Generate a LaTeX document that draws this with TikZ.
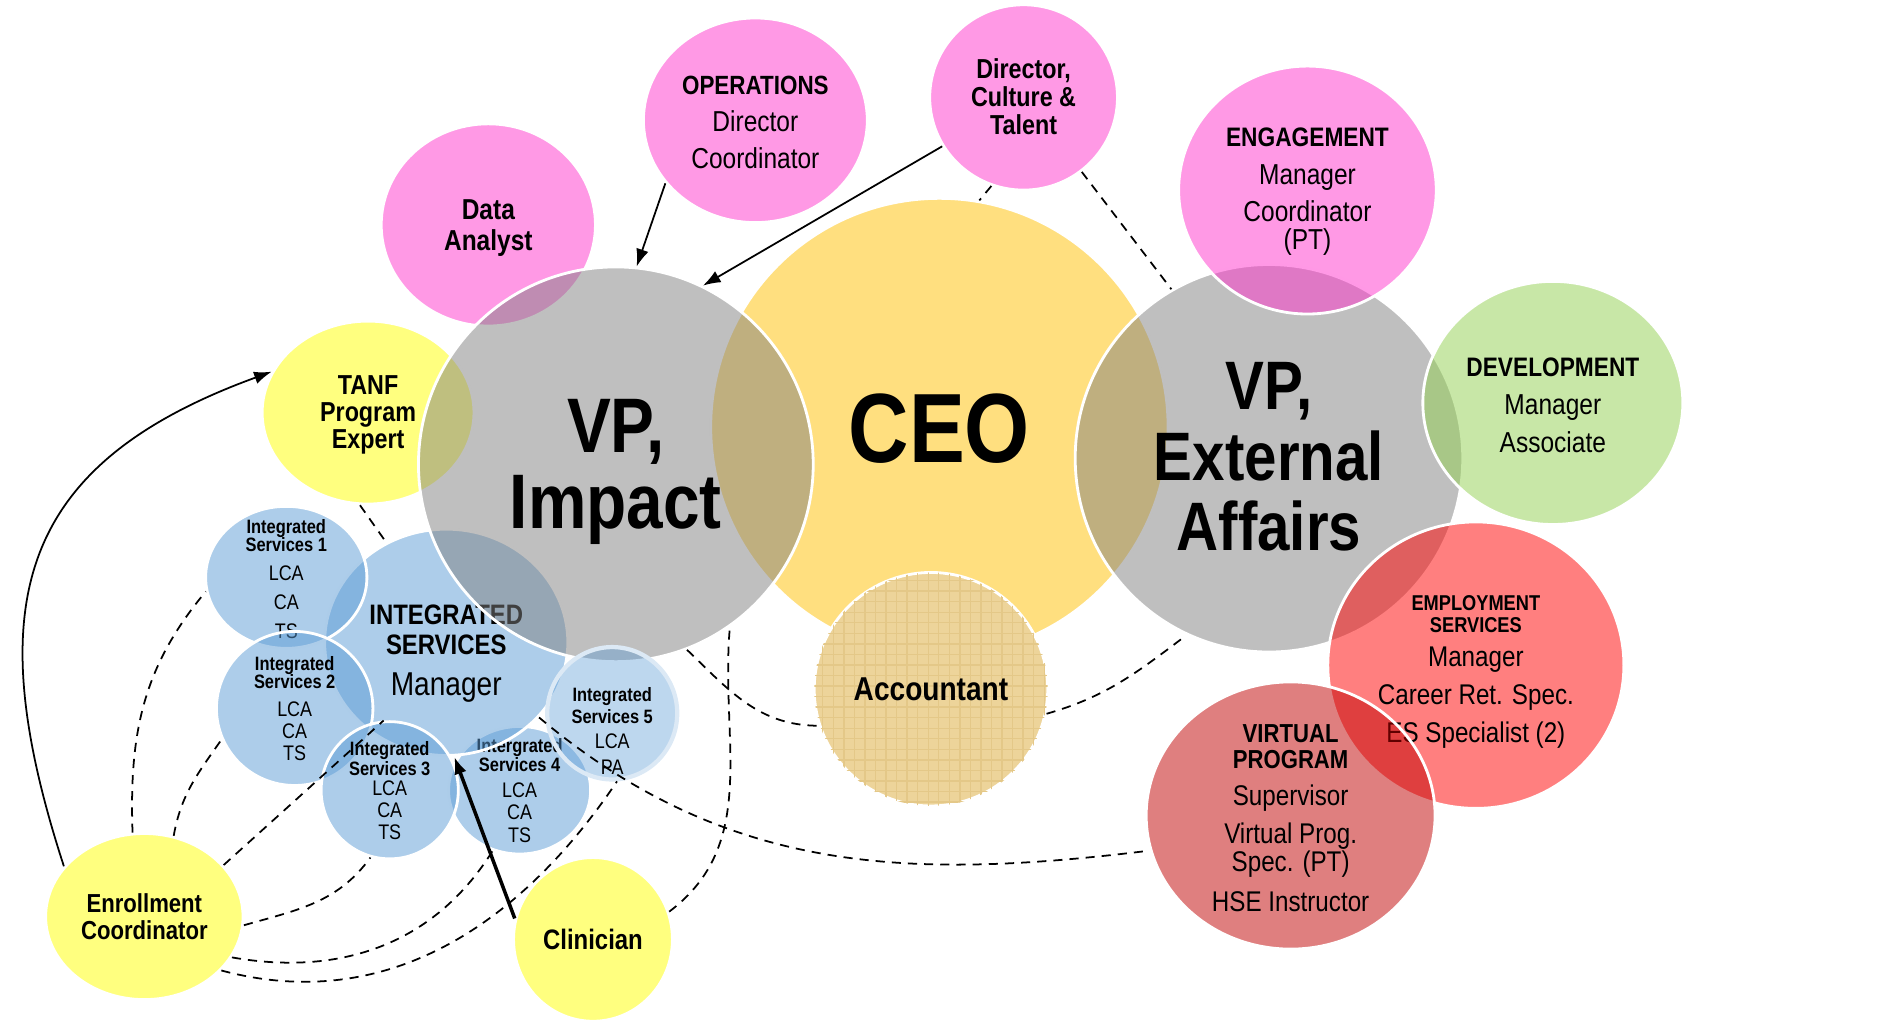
\documentclass[tikz,border=0pt]{standalone}
\usepackage{fontspec}
\setmainfont{Liberation Sans}[FakeStretch=0.85]
\usetikzlibrary{shapes.geometric,arrows.meta,patterns}

\definecolor{pinkfill}{HTML}{FF33CC}
\definecolor{greyfill}{HTML}{808080}
\definecolor{ceofill}{HTML}{FFC000}
\definecolor{yellowfill}{HTML}{FFFF00}
\definecolor{bluefill}{HTML}{5B9BD5}
\definecolor{greenfill}{HTML}{92D050}
\definecolor{redfill}{HTML}{FF0000}
\definecolor{darkredfill}{HTML}{C00000}
\definecolor{paper}{HTML}{EDD49A}
\definecolor{paperline}{HTML}{E4C888}
\definecolor{paleblue}{HTML}{DCE9F5}

% text stack that does not grow the bubble
\newcommand{\stk}[2][0pt]{\smash{\raisebox{\dimexpr-0.38em+#1\relax}{\begin{tabular}{@{}c@{}}#2\end{tabular}}}}
\newcommand{\ttl}[2]{\textbf{\fontsize{#1}{#1}\selectfont #2}}

\tikzset{
  bubble/.style={ellipse, draw=white, line width=0.8pt, fill opacity=0.5, text opacity=1, inner sep=0pt},
  radii/.style 2 args={minimum width=#1*0.024056cm, minimum height=#2*0.024056cm},
  pinkb/.style={bubble, fill=pinkfill},
  greyb/.style={bubble, fill=greyfill},
  ceob/.style={bubble, fill=ceofill},
  yellowb/.style={bubble, fill=yellowfill},
  blueb/.style={bubble, fill=bluefill},
  greenb/.style={bubble, fill=greenfill},
  redb/.style={bubble, fill=redfill},
  darkredb/.style={bubble, fill=darkredfill},
  paperb/.style={bubble, fill=paper, fill opacity=1,
    postaction={pattern=grid, pattern color=paperline}},
  arr/.style={-{Latex[length=5pt,width=3.6pt]}, line width=0.5pt},
  dashlink/.style={line width=0.5pt, dash pattern=on 2.6pt off 2pt}
}

\begin{document}
\begin{tikzpicture}[x=0.012028cm, y=0.012028cm]
\useasboundingbox (0,0) rectangle (1568,-851);

% centre
\node[ceob, radii={190}{190}, font=\fontsize{28}{28}\selectfont\bfseries] (ceo) at (781,-355) {\stk{CEO}};
\node[paperb, radii={97}{97}, font=\fontsize{9.4}{9.4}\selectfont\bfseries] (acc) at (774,-573) {\stk{Accountant}};

% impact side
\node[pinkb, radii={89}{84}, font=\fontsize{8.2}{8.6}\selectfont\bfseries] (data) at (406,-187) {\stk{Data\\Analyst}};
\node[yellowb, radii={88}{76}, font=\fontsize{7.8}{7.7}\selectfont\bfseries] (tanf) at (306,-343) {\stk{TANF\\Program\\Expert}};
\node[blueb, radii={59}{53}, font=\fontsize{6}{6.2}\selectfont] (is4) at (432,-657)
  {\stk{\ttl{5.5}{Intergrated}\\[-0.8pt]\ttl{5.5}{Services 4}\\[1.3pt]LCA\\CA\\[0.3pt]TS}};
\node[blueb, radii={101}{94}, font=\fontsize{9.4}{11.6}\selectfont] (isv) at (371,-534)
  {\stk[-1.4pt]{\ttl{8}{INTEGRATED}\\[-3pt]\ttl{8}{SERVICES}\\Manager}};
\node[blueb, radii={67}{59}, font=\fontsize{6}{8.2}\selectfont] (is1) at (238,-480)
  {\stk{\ttl{5.5}{Integrated}\\[-3.1pt]\ttl{5.5}{Services 1}\\LCA\\CA\\TS}};
\node[blueb, radii={65}{64}, font=\fontsize{6}{6.2}\selectfont] (is2) at (245,-589)
  {\stk{\ttl{5.5}{Integrated}\\[-1.1pt]\ttl{5.5}{Services 2}\\[1.7pt]LCA\\CA\\TS}};
\node[blueb, radii={57}{57}, font=\fontsize{6}{6.2}\selectfont] (is3) at (324,-657)
  {\stk{\ttl{5.5}{Integrated}\\[-0.7pt]\ttl{5.5}{Services 3}\\[-0.4pt]LCA\\CA\\TS}};
\node[greyb, radii={164}{164}, font=\fontsize{22}{21.5}\selectfont\bfseries] (vpi) at (512,-386) {\stk{VP,\\Impact}};
\node[bubble, fill=bluefill, fill opacity=0.4, draw=paleblue, line width=1.2pt, radii={54}{55}, font=\fontsize{6}{7.2}\selectfont] (is5) at (509,-593)
  {\stk[-4.8pt]{\ttl{5.5}{Integrated}\\[-1pt]\ttl{5.5}{Services 5}\\LCA\\PA}};

% external side
\node[greyb, radii={161}{161}, font=\fontsize{19.5}{20}\selectfont\bfseries] (vpe) at (1055,-381) {\stk{VP,\\External\\Affairs}};
\node[pinkb, radii={107}{103}, font=\fontsize{8.2}{10.6}\selectfont] (eng) at (1087,-158)
  {\stk[1pt]{\ttl{7.6}{ENGAGEMENT}\\Manager\\Coordinator\\[-2.7pt](PT)}};
\node[greenb, radii={108}{101}, font=\fontsize{8.2}{10.8}\selectfont] (dev) at (1291,-335)
  {\stk{\ttl{7.6}{DEVELOPMENT}\\Manager\\Associate}};
\node[redb, radii={123}{119}, font=\fontsize{8.1}{10.8}\selectfont] (emp) at (1227,-553)
  {\stk{\ttl{6.1}{EMPLOYMENT}\\[-4.6pt]\ttl{6.1}{SERVICES}\\[-1.2pt]Manager\\Career Ret. Spec.\\ES Specialist (2)}};
\node[darkredb, radii={120}{111}, font=\fontsize{8.1}{10.8}\selectfont] (vir) at (1073,-678)
  {\stk{\ttl{7.4}{VIRTUAL}\\[-3.3pt]\ttl{7.4}{PROGRAM}\\[-0.2pt]Supervisor\\Virtual Prog.\\[-2.9pt]Spec. (PT)\\[0.5pt]HSE Instructor}};

% top
\node[pinkb, radii={93}{85}, font=\fontsize{8.2}{10.6}\selectfont] (ops) at (628,-100)
  {\stk{\ttl{7.5}{OPERATIONS}\\Director\\Coordinator}};
\node[pinkb, radii={78}{77}, font=\fontsize{7.8}{7.9}\selectfont\bfseries] (dct) at (851,-81) {\stk{Director,\\Culture \&\\Talent}};

% bottom left
\node[yellowb, radii={82}{69}, font=\fontsize{7.4}{7.5}\selectfont\bfseries] (ec) at (120,-762) {\stk{Enrollment\\Coordinator}};
\node[yellowb, radii={66}{68}, font=\fontsize{8}{8}\selectfont\bfseries] (cln) at (493,-781) {\stk{Clinician}};

% links
\draw[arr] (ops.215) -- (vpi.84);
\draw[arr] (dct.211) -- (vpi.64);
\draw[dashlink] (dct.250) -- (ceo.80);
\draw[dashlink] (dct.308) -- (vpe.120);
\draw[arr] (ec.148) to[out=108,in=200,looseness=1.3] (tanf.157);
\draw[dashlink] (tanf.265) -- (isv.121);
\draw[dashlink] (ec.98) to[out=92,in=230] (is1.190);
\draw[dashlink] (ec.70) to[out=80,in=235] (is2.203);
\draw[dashlink] (ec.33) -- (is3.95);
\draw[dashlink] (ec.355) to[out=16,in=234] (is3.254);
\draw[dashlink] (ec.335) to[out=350,in=238] (is4.246);
\draw[dashlink] (ec.325) to[out=345,in=236] (is5.274);
\draw[dashlink] (cln.20) to[out=37,in=265] (vpi.305);
\draw[dashlink] (vpi.291) to[out=316,in=180] (acc.198);
\draw[dashlink] (acc.348) to[out=16,in=217] (vpe.245);
\draw[dashlink] (isv.321) to[out=320,in=187] (vir.194);
\draw[arr, line width=1pt] (cln.165) -- (isv.274);
\end{tikzpicture}
\end{document}
